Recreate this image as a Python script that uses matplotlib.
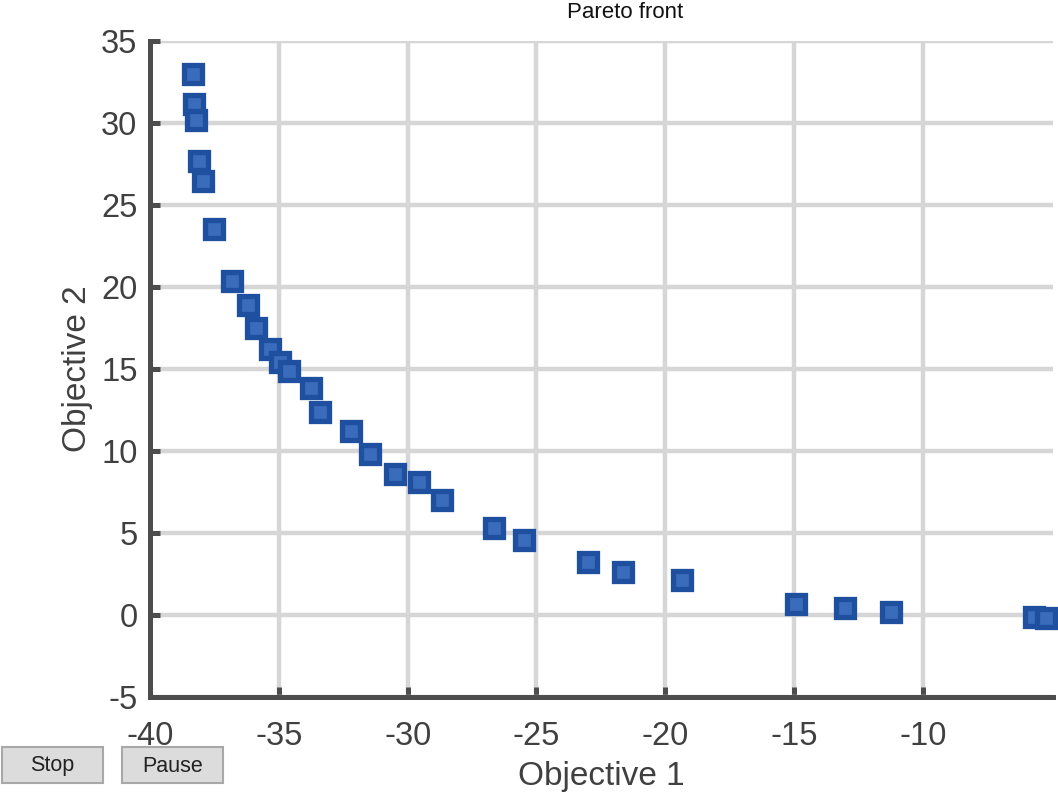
import matplotlib
matplotlib.use("Agg")
from matplotlib import pyplot as plt
from matplotlib.patches import Rectangle

# pareto front points
obj1 = [-38.32, -38.30, -38.21, -38.10, -37.93, -37.53, -36.83, -36.19, -35.89,
        -35.36, -34.95, -34.62, -33.74, -33.39, -32.21, -31.46, -30.49, -29.57,
        -28.67, -26.64, -25.49, -22.98, -21.65, -19.34, -14.94, -13.04, -11.24,
        -5.67, -5.23]
obj2 = [33.0, 31.17, 30.19, 27.70, 26.49, 23.54, 20.38, 18.92, 17.52,
        16.21, 15.44, 14.88, 13.83, 12.37, 11.25, 9.83, 8.62, 8.09,
        6.99, 5.31, 4.56, 3.26, 2.65, 2.15, 0.68, 0.44, 0.20,
        -0.12, -0.16]
xticks = [-40, -35, -30, -25, -20, -15, -10]
yticks = [-5, 0, 5, 10, 15, 20, 25, 30, 35]
buttons = ["Stop", "Pause"]

plt.rcParams['font.family'] = ['Liberation Sans', 'DejaVu Sans']
plt.rcParams['axes.unicode_minus'] = False
grey = '#404040'

fig = plt.figure(figsize=(10.58, 7.96), dpi=100)
ax = fig.add_axes([150 / 1058, 99 / 796, 903 / 1058, 656 / 796])

ax.plot(obj1, obj2, linestyle='none', marker='s', markersize=12.6,
        markeredgewidth=3.8, markeredgecolor='#1f4f9f',
        markerfacecolor='#3a6cbc', clip_on=False, zorder=3)

# format plot
ax.set_xlim(-40, -4.95)
ax.set_ylim(-5, 35)
ax.set_xticks(xticks)
ax.set_yticks(yticks)
ax.grid(True, color='#d6d6d6', linewidth=3.2)
ax.set_axisbelow(True)
for side in ['top', 'right']:
    ax.spines[side].set_visible(False)
for side in ['left', 'bottom']:
    ax.spines[side].set_linewidth(3.6)
    ax.spines[side].set_color('#4d4d4d')
    ax.spines[side].set_capstyle('projecting')
ax.tick_params(direction='in', length=7, width=3.6, color='#4d4d4d',
               labelsize=23.5, labelcolor=grey)
ax.tick_params(axis='x', pad=17)
ax.tick_params(axis='y', pad=9)

ax.set_xlabel('Objective 1', fontsize=24, color=grey, labelpad=7)
ax.set_ylabel('Objective 2', fontsize=24, color=grey, labelpad=6)
fig.text(625 / 1058, 1 - 18 / 796, 'Pareto front', fontsize=16,
         color='#111111', ha='center', va='baseline')

# the two buttons at the bottom-left
for i, name in enumerate(buttons):
    x0 = 2 + i * 120
    fig.patches.append(Rectangle((x0 / 1058, 1 - 783 / 796), 101 / 1058, 36 / 796,
                                 transform=fig.transFigure, facecolor='#dcdcdc',
                                 edgecolor='#a8a8a8', linewidth=1.5))
    fig.text((x0 + 50.5) / 1058, 1 - 766 / 796, name, fontsize=15.5,
             color='#222222', ha='center', va='center')

fig.savefig('out.png', dpi=100)
